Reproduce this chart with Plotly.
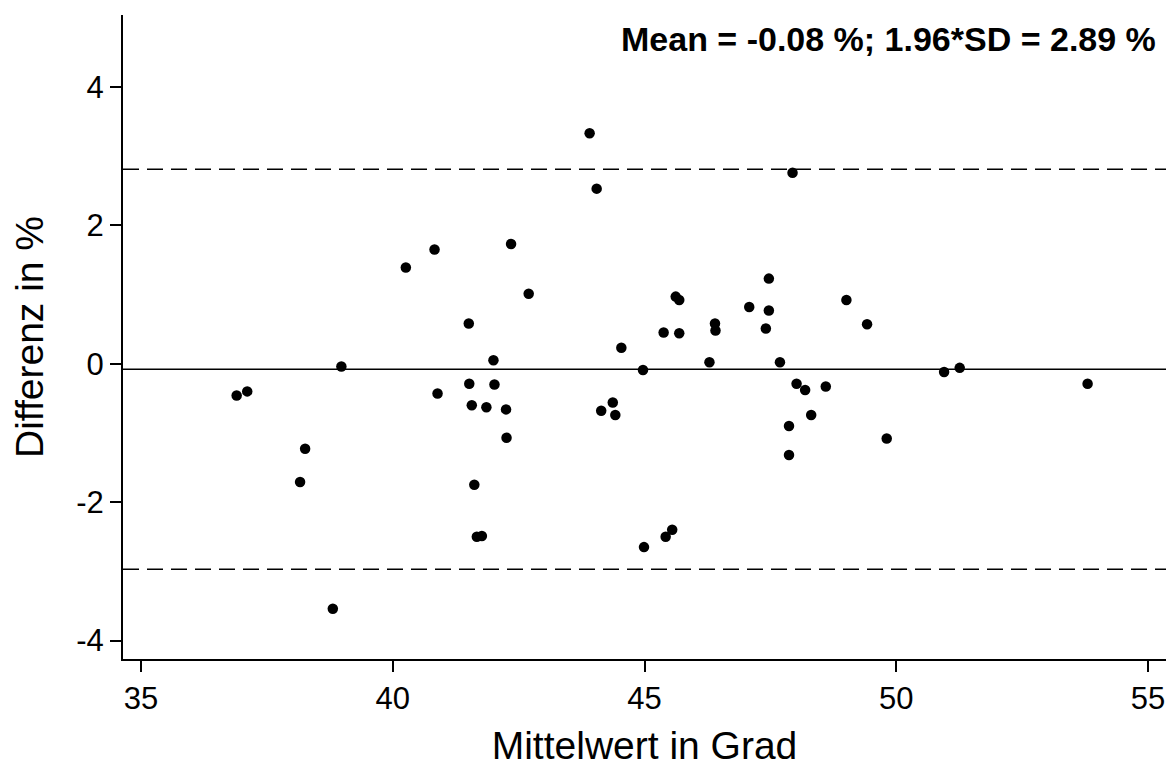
import plotly.graph_objects as go

# Bland-Altman data
mittelwert = [36.90, 37.11, 38.16, 38.26, 38.81, 38.98, 40.26, 40.83, 40.89, 41.51,
              41.52, 41.57, 41.62, 41.67, 41.77, 41.86, 42.00, 42.02, 42.25, 42.26,
              42.35, 42.70, 43.91, 44.05, 44.14, 44.37, 44.42, 44.54, 44.97, 44.99,
              45.38, 45.42, 45.55, 45.62, 45.69, 45.69, 46.29, 46.40, 46.41, 47.08,
              47.41, 47.47, 47.47, 47.69, 47.87, 47.87, 47.94, 48.02, 48.19, 48.31,
              48.60, 49.01, 49.42, 49.81, 50.95, 51.26, 53.80]
differenz = [-0.46, -0.40, -1.71, -1.23, -3.54, -0.04, 1.39, 1.65, -0.43, 0.58,
             -0.29, -0.60, -1.75, -2.50, -2.49, -0.63, 0.05, -0.30, -0.66, -1.07,
             1.73, 1.01, 3.33, 2.53, -0.68, -0.56, -0.74, 0.23, -0.09, -2.65,
             0.45, -2.50, -2.40, 0.97, 0.92, 0.44, 0.02, 0.58, 0.48, 0.82,
             0.51, 1.23, 0.77, 0.02, -0.90, -1.32, 2.76, -0.29, -0.38, -0.74,
             -0.33, 0.92, 0.57, -1.08, -0.12, -0.06, -0.29]

mean_diff = -0.08
sd196 = 2.89

x_ticks = [35, 40, 45, 50, 55]
y_ticks = [-4, -2, 0, 2, 4]

FONT = "Liberation Sans, Arial, sans-serif"

fig = go.Figure()
fig.add_trace(go.Scatter(
    x=mittelwert, y=differenz, mode="markers",
    marker=dict(color="black", size=10.5, line=dict(width=0)),
    showlegend=False, hoverinfo="x+y"))

fig.add_hline(y=mean_diff, line=dict(color="black", width=1.5), layer="below")
fig.add_hline(y=mean_diff + sd196, line=dict(color="black", width=1.5, dash="16px,8px"), layer="below")
fig.add_hline(y=mean_diff - sd196, line=dict(color="black", width=1.5, dash="16px,8px"), layer="below")

fig.add_annotation(
    text=f"<b>Mean = {mean_diff:.2f} %; 1.96*SD = {sd196:.2f} %</b>",
    xref="paper", yref="paper", x=0.9924, y=0.963,
    xanchor="right", yanchor="middle", showarrow=False,
    font=dict(family=FONT, size=34, color="black"))

# the page body adds an 8px offset, so the figure is 8px smaller and margins shifted
fig.update_layout(
    width=1166, height=759,
    margin=dict(l=115, r=8, t=7, b=108),
    plot_bgcolor="white", paper_bgcolor="white",
    font=dict(family=FONT, color="black"),
)
fig.update_xaxes(
    range=[34.643, 55.357], tickvals=x_ticks, ticktext=[str(v) for v in x_ticks],
    ticks="outside", ticklen=11, tickwidth=1.5, tickcolor="black",
    showline=True, linecolor="black", linewidth=2,
    showgrid=False, zeroline=False, automargin=False,
    tickfont=dict(size=31, family=FONT),
    title=dict(text="Mittelwert in Grad", font=dict(size=39, family=FONT), standoff=17),
)
fig.update_yaxes(
    range=[-4.267, 5.039], tickvals=y_ticks, ticktext=[str(v) for v in y_ticks],
    ticks="outside", ticklen=11, tickwidth=1.5, tickcolor="black",
    showline=True, linecolor="black", linewidth=2,
    showgrid=False, zeroline=False, automargin=False,
    tickfont=dict(size=31, family=FONT),
    title=dict(text="Differenz in %", font=dict(size=39, family=FONT), standoff=22),
)

fig.write_html("out.html")
